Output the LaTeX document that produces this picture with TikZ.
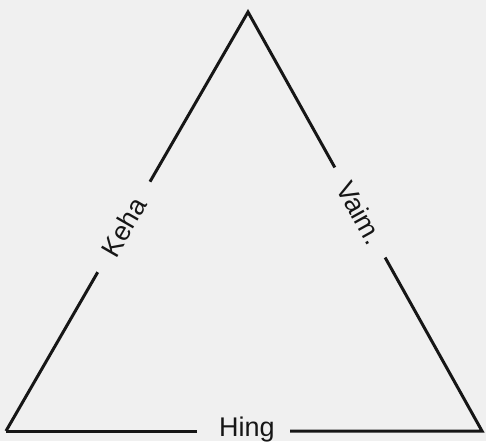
\documentclass[tikz,border=0pt]{standalone}
\usepackage{fontspec}
\setmainfont{Liberation Sans}
\usetikzlibrary{calc}
\definecolor{bg}{HTML}{F0F0F0}
\definecolor{ink}{HTML}{161616}
\tikzset{
  side/.style={draw=ink, line width=3pt, line cap=butt, line join=miter},
  lbl/.style={text=ink, font=\fontsize{27}{27}\selectfont, inner sep=0pt}
}
\begin{document}
\begin{tikzpicture}[x=1pt,y=-1pt]
\fill[bg] (0,0) rectangle (486,441);
\useasboundingbox (0,0) rectangle (486,441);
\coordinate (A) at (6,431);
\coordinate (T) at (248,12);
\coordinate (B) at (482,431);
\coordinate (l1) at ($(A)!0.379!(T)$);
\coordinate (l2) at ($(A)!0.595!(T)$);
\coordinate (r1) at ($(T)!0.371!(B)$);
\coordinate (r2) at ($(T)!0.586!(B)$);
\coordinate (b1) at (197,431);
\coordinate (b2) at (290,431);
\draw[side] (A) -- (l1);
\draw[side] (l2) -- (T) -- (r1);
\draw[side] (r2) -- (B) -- (b2);
\draw[side] (b1) -- (A);
\node[lbl, rotate=60] (keha) at ($(A)!0.487!(T)$) {Keha};
\node[lbl, rotate=-61] (vaim) at ($(T)!0.479!(B)$) {Vaim.};
\node[lbl, anchor=base] (hing) at (247,436) {Hing};
\end{tikzpicture}
\end{document}
